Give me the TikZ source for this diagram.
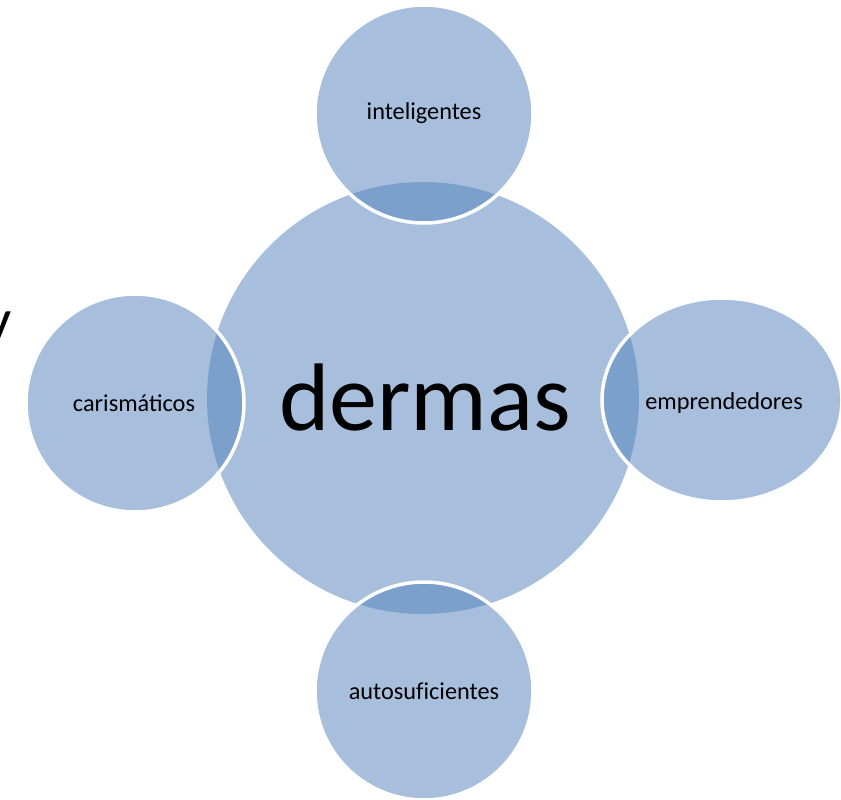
\documentclass[tikz,border=0pt]{standalone}
\usepackage{fontspec}
\setmainfont{Carlito}
\definecolor{petal}{HTML}{A7BFDD}
\definecolor{lens}{HTML}{7BA0CC}
\tikzset{
  petalname/.style={font=\fontsize{24.3}{24.3}\selectfont, text=black},
}
\begin{document}
\begin{tikzpicture}[x=1pt,y=-1pt]
\useasboundingbox (0,0) rectangle (841,800);
\fill[petal] (423,398) circle[radius=216];
\fill[petal] (424,114) circle[radius=109];
\fill[petal] (135,403) circle[radius=109];
\fill[petal] (722,400) ellipse[x radius=120,y radius=102];
\fill[petal] (424,691) circle[radius=109];
\begin{scope}
\clip (423,398) circle[radius=216];
\fill[lens] (424,114) circle[radius=109];
\fill[lens] (135,403) circle[radius=109];
\fill[lens] (722,400) ellipse[x radius=120,y radius=102];
\fill[lens] (424,691) circle[radius=109];
\end{scope}
\draw[white,line width=3.5] (424,114) circle[radius=109];
\draw[white,line width=3.5] (135,403) circle[radius=109];
\draw[white,line width=3.5] (722,400) ellipse[x radius=120,y radius=102];
\draw[white,line width=3.5] (424,691) circle[radius=109];
\node[font=\fontsize{96}{96}\selectfont] (core) at (425,398) {dermas};
\node[petalname] (top) at (424,113) {inteligentes};
\node[petalname] (left) at (134,403) {carismáticos};
\node[petalname] (right) at (724,403) {emprendedores};
\node[petalname] (bottom) at (424,691) {autosuf\kern0pt icientes};
\node[font=\fontsize{60}{60}\selectfont, anchor=base east, inner sep=0] (ytail) at (12,340) {y};
\end{tikzpicture}
\end{document}
